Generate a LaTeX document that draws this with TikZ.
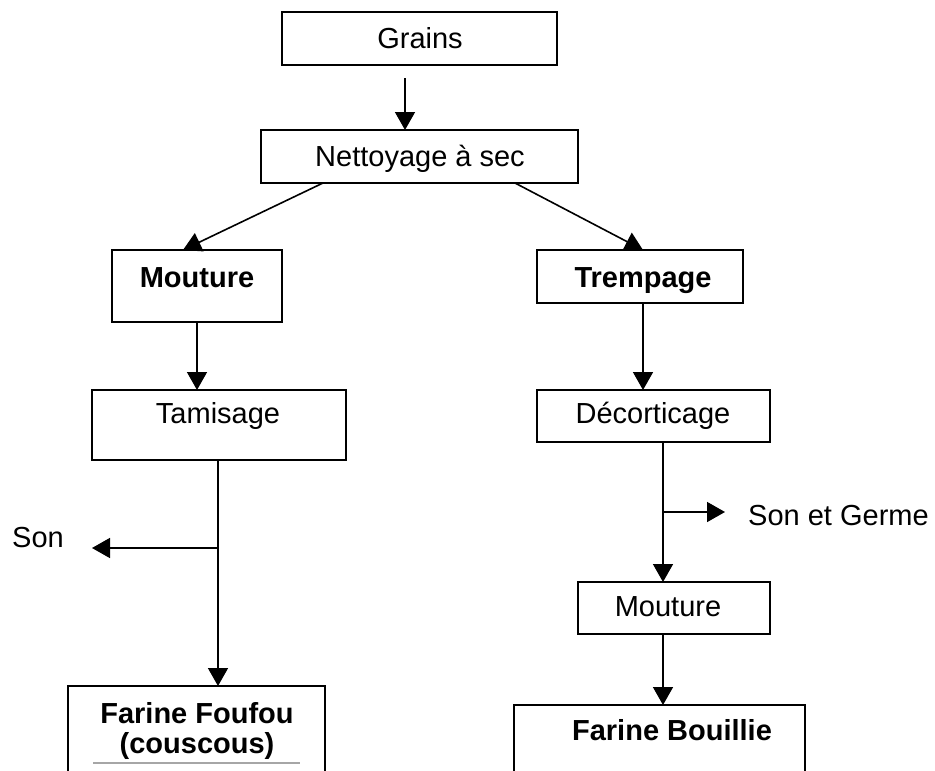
\documentclass[tikz,border=0pt]{standalone}
\usepackage{fontspec}
\setmainfont{Liberation Sans}
\usetikzlibrary{arrows.meta}
\begin{document}
\begin{tikzpicture}[x=1pt,y=-1pt,
  box/.style={draw,line width=1.6pt},
  lbl/.style={font=\fontsize{29}{33}\selectfont,inner sep=0pt,anchor=base},
  blbl/.style={lbl,font=\fontsize{29}{33}\selectfont\bfseries},
  arr/.style={line width=1.6pt,-{Triangle[length=18pt,width=20pt]}},
  ln/.style={line width=1.6pt}]
\useasboundingbox (0,0) rectangle (935,771);
\clip (0,0) rectangle (935,771);
% boxes
\draw[box] (282,12) rectangle (557,65);
\node[lbl] (grains) at (420,48) {Grains};
\draw[box] (261,130) rectangle (578,183);
\node[lbl] (nett) at (420,166) {Nettoyage à sec};
\draw[box] (112,250) rectangle (282,322);
\node[blbl] (mout1) at (197,287) {Mouture};
\draw[box] (537,250) rectangle (743,303);
\node[blbl] (tremp) at (643,287) {Trempage};
\draw[box] (92,390) rectangle (346,460);
\node[lbl] (tam) at (218,423) {Tamisage};
\draw[box] (537,390) rectangle (770,442);
\node[lbl] (deco) at (653,423) {Décorticage};
\draw[box] (578,582) rectangle (770,634);
\node[lbl] (mout2) at (668,616) {Mouture};
\draw[box] (514,705) rectangle (805,800);
\node[blbl] (fb) at (672,740) {Farine Bouillie};
\draw[box] (68,686) rectangle (325,800);
\node[blbl] (ff) at (197,723) {Farine Foufou};
\node[blbl] (ff2) at (197,753) {(couscous)};
\draw[line width=1.2pt,gray!70] (93,763) -- (300,763);
% connectors
\coordinate (a1) at (405,78);
\coordinate (a1e) at (405,130);
\draw[arr] (a1) -- (a1e);
\coordinate (d1s) at (323,183);
\coordinate (d1e) at (183,250);
\draw[arr] (d1s) -- (d1e);
\coordinate (d2s) at (515,183);
\coordinate (d2e) at (643,250);
\draw[arr] (d2s) -- (d2e);
\coordinate (m1s) at (197,322);
\coordinate (m1e) at (197,390);
\draw[arr] (m1s) -- (m1e);
\coordinate (t1s) at (643,303);
\coordinate (t1e) at (643,390);
\draw[arr] (t1s) -- (t1e);
\coordinate (ts) at (218,460);
\coordinate (tb) at (218,548);
\coordinate (te) at (218,686);
\coordinate (sonE) at (92,548);
\draw[arr] (ts) -- (te);
\draw[arr] (tb) -- (sonE);
\node[lbl] (son) at (38,547) {Son};
\coordinate (ds) at (663,442);
\coordinate (db) at (663,512);
\coordinate (de) at (663,582);
\coordinate (sgE) at (725,512);
\draw[arr] (ds) -- (de);
\draw[arr] (db) -- (sgE);
\node[lbl,anchor=base west] (sg) at (748,525) {Son et Germe};
\coordinate (m2s) at (663,634);
\coordinate (m2e) at (663,705);
\draw[arr] (m2s) -- (m2e);
\end{tikzpicture}
\end{document}
